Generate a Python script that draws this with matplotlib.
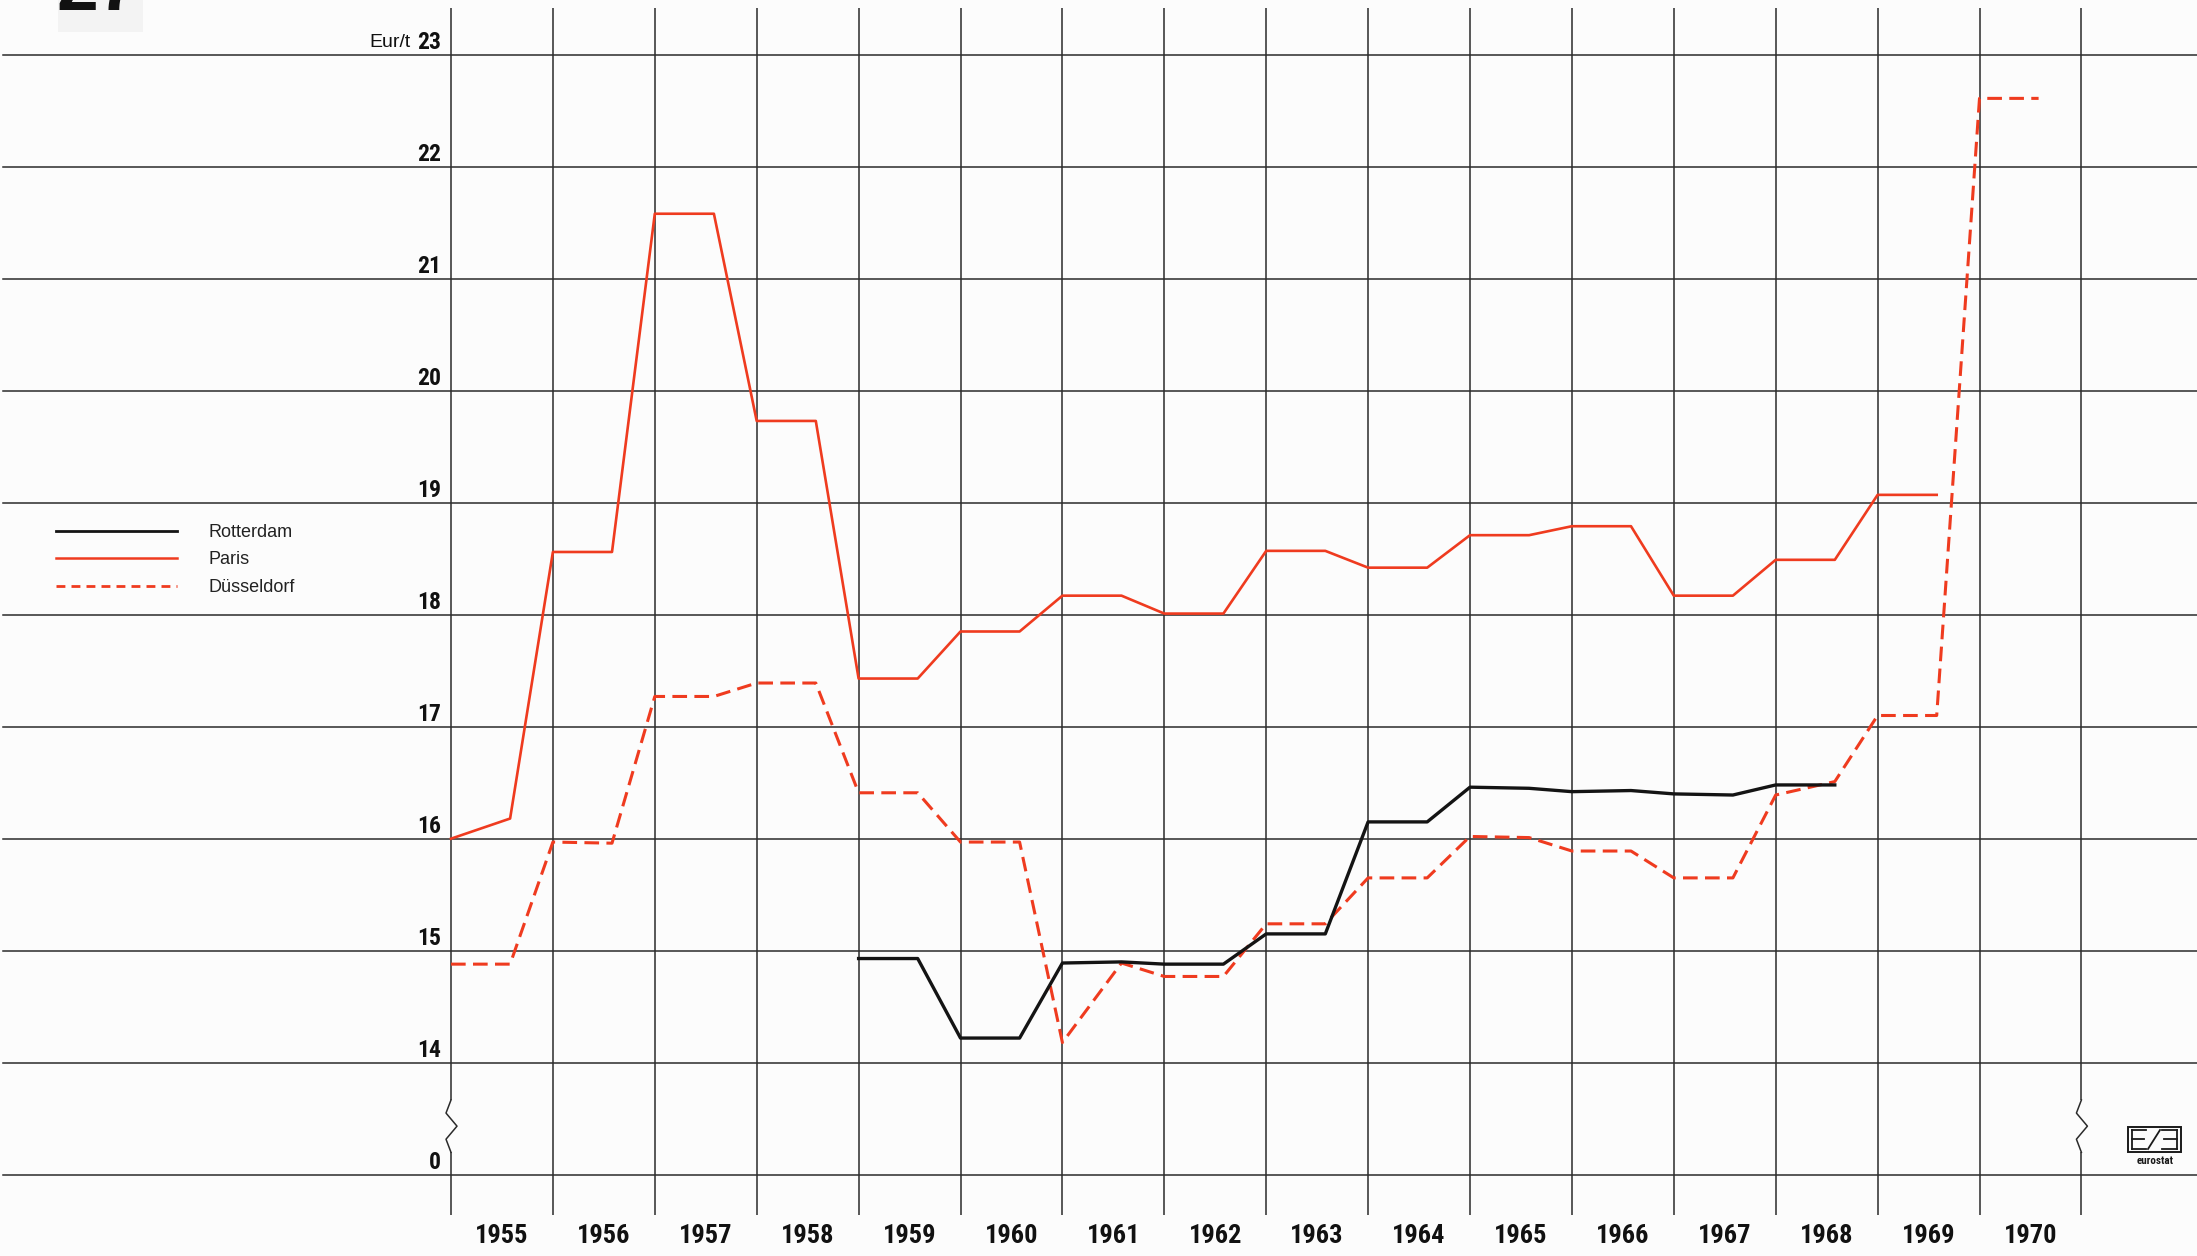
import numpy as np
import matplotlib.pyplot as plt
from matplotlib import font_manager
from matplotlib.font_manager import FontProperties
from matplotlib.lines import Line2D
from matplotlib.patches import Rectangle

# prices in Eur/t, two quotes a year: at the start and later in the year
paris_years = list(range(1955, 1970))
paris_first = [16.0, 18.56, 21.58, 19.73, 17.43, 17.85, 18.17, 18.01, 18.57, 18.42, 18.71, 18.79, 18.17, 18.49, 19.07]
paris_second = [16.18, 18.56, 21.58, 19.73, 17.43, 17.85, 18.17, 18.01, 18.57, 18.42, 18.71, 18.79, 18.17, 18.49, 19.07]

dus_years = list(range(1955, 1971))
dus_first = [14.88, 15.97, 17.27, 17.39, 16.41, 15.97, 14.18, 14.77, 15.24, 15.65, 16.02, 15.89, 15.65, 16.39, 17.10, 22.61]
dus_second = [14.88, 15.96, 17.27, 17.39, 16.41, 15.97, 14.89, 14.77, 15.24, 15.65, 16.01, 15.89, 15.65, 16.51, 17.10, 22.61]

rot_years = list(range(1959, 1969))
rot_first = [14.93, 14.22, 14.89, 14.88, 15.15, 16.15, 16.46, 16.42, 16.40, 16.48]
rot_second = [14.93, 14.22, 14.90, 14.88, 15.15, 16.15, 16.45, 16.43, 16.39, 16.48]

tick_values = [0, 14, 15, 16, 17, 18, 19, 20, 21, 22, 23]
year_labels = list(range(1955, 1971))

HOLD = 0.58  # where in the year the second quote sits

W, H = 2197, 1256
RED = '#ef3b1f'
GRID = '#2b2b2b'


def is_bold(f):
    w = f.weight
    if isinstance(w, str):
        return 'bold' in w.lower() or 'black' in w.lower()
    return w >= 600


def narrow_file(bold):
    # look for a condensed sans, fall back to the plain one
    order = ['Liberation Sans Narrow', 'Roboto Condensed', 'Open Sans Condensed', 'Noto Sans Condensed']
    pool = font_manager.fontManager.ttflist
    for name in order:
        for f in pool:
            if f.name == name and is_bold(f) == bold and f.style == 'normal':
                return f.fname
    for f in pool:
        cond = f.stretch in ('condensed', 'semi-condensed') or 'Condensed' in f.name or 'Narrow' in f.name
        if cond and is_bold(f) == bold and f.style == 'normal' and 'Mono' not in f.name and 'Serif' not in f.name:
            return f.fname
    return None


NARROW_B = narrow_file(True)
NARROW_R = narrow_file(False)


def font(size, bold=False, narrow=True):
    fname = (NARROW_B if bold else NARROW_R) if narrow else None
    if fname:
        return FontProperties(fname=fname, size=size)
    return FontProperties(family='Liberation Sans', weight='bold' if bold else 'normal', size=size)


def path(years, first, second):
    t, v = [], []
    for y, a, b in zip(years, first, second):
        t += [y, y + HOLD]
        v += [a, b]
    return np.array(t), np.array(v)


def pos(v):
    # broken axis: 0 at the bottom, then 14..23 one step each
    v = np.asarray(v, dtype=float)
    return np.where(v >= 14, v - 13, v / 14)


def fig_xy(x, y):
    return x / W, 1 - y / H


fig = plt.figure(figsize=(W / 100, H / 100), dpi=100, facecolor='#fcfcfc')
ax = fig.add_axes([0, 0, 1, 1])
ax.set_facecolor('#fcfcfc')
ax.axis('off')

x_px0, year_px, y_px0, unit_px = 451, 101.9, 1174.7, 112
ax.set_xlim(1955 - x_px0 / year_px, 1955 + (W - x_px0) / year_px)
ax.set_ylim(-(H - y_px0) / unit_px, y_px0 / unit_px)

# grid
for v in tick_values:
    ax.axhline(pos(v), xmin=3 / W, xmax=1, color=GRID, lw=1.1, zorder=1)

v_bot, v_top = -0.36, 10.42
brk_hi, brk_lo = 0.667, 0.2
for yr in range(1955, 1972):
    if yr in (1955, 1971):
        ax.vlines(yr, brk_hi, v_top, color=GRID, lw=1.1, zorder=1)
        ax.vlines(yr, v_bot, brk_lo, color=GRID, lw=1.1, zorder=1)
        dx = np.array([0, -5, 6, -5, 0]) / year_px
        dy = np.linspace(brk_hi, brk_lo, 5)
        ax.plot(yr + dx, dy, color=GRID, lw=1.1, zorder=1)
    else:
        ax.vlines(yr, v_bot, v_top, color=GRID, lw=1.1, zorder=1)

# series
t, v = path(rot_years, rot_first, rot_second)
ax.plot(t, pos(v), color='#141414', lw=2.4, zorder=4, label='Rotterdam')
t, v = path(paris_years, paris_first, paris_second)
ax.plot(t, pos(v), color=RED, lw=1.9, zorder=3, label='Paris')
t, v = path(dus_years, dus_first, dus_second)
ax.plot(t, pos(v), color=RED, lw=2.2, ls=(0, (4.8, 2.4)), zorder=3, label='Düsseldorf')

# axis labels
for v in tick_values:
    ax.text(1955 - 10 / year_px, pos(v) + 0.113, str(v), ha='right', va='center',
            fontproperties=font(17, bold=True), color='#111111')
ax.text(1955 - 40 / year_px, pos(23) + 0.113, 'Eur/t', ha='right', va='center',
        fontproperties=font(14, narrow=False), color='#111111')
for yr in year_labels:
    ax.text(yr + 0.5, -0.547, str(yr), ha='center', va='center',
            fontproperties=font(19, bold=True), color='#111111')

# legend
h_rot = Line2D([], [], color='#141414', lw=2.0)
h_par = Line2D([], [], color=RED, lw=1.8)
h_dus = Line2D([], [], color=RED, lw=2.0, ls=(0, (3.2, 2.2)))
leg = ax.legend([h_rot, h_par, h_dus], ['Rotterdam', 'Paris', 'Düsseldorf'],
                loc='upper left', bbox_to_anchor=fig_xy(56, 524), bbox_transform=fig.transFigure,
                frameon=False, borderpad=0, borderaxespad=0, handlelength=6.7,
                handletextpad=1.75, labelspacing=0.58,
                prop=FontProperties(family='Liberation Sans', size=13))
for txt in leg.get_texts():
    txt.set_color('#222222')

# plate number, cut by the top edge
fig.add_artist(Rectangle(fig_xy(58, 32), 85 / W, 32 / H, transform=fig.transFigure,
                         facecolor='#f3f3f3', edgecolor='none', zorder=0))
fig.text(*fig_xy(56, 10), '27', fontsize=54, fontweight='bold', va='baseline', ha='left',
         family='Liberation Sans', color='#111111')

# eurostat mark
x0, y0, x1, y1 = 2128, 1127, 2181, 1152
fig.add_artist(Rectangle(fig_xy(x0, y1), (x1 - x0) / W, (y1 - y0) / H, transform=fig.transFigure,
                         facecolor='none', edgecolor='#1a1a1a', lw=1.4))
for seg in [((2132, 1130), (2132, 1149)), ((2132, 1130), (2146, 1130)), ((2132, 1139), (2144, 1139)),
            ((2132, 1149), (2146, 1149)), ((2148, 1149), (2160, 1130)), ((2162, 1130), (2177, 1130)),
            ((2177, 1130), (2177, 1149)), ((2164, 1139), (2177, 1139)), ((2162, 1149), (2177, 1149))]:
    (ax_, ay_), (bx_, by_) = seg
    p0, p1 = fig_xy(ax_, ay_), fig_xy(bx_, by_)
    fig.add_artist(Line2D([p0[0], p1[0]], [p0[1], p1[1]], transform=fig.transFigure,
                          color='#1a1a1a', lw=1.3))
fig.text(*fig_xy(2155, 1161), 'eurostat', ha='center', va='center', color='#1a1a1a',
         fontproperties=font(8, bold=True))

fig.savefig('out.png', dpi=100, facecolor=fig.get_facecolor())
